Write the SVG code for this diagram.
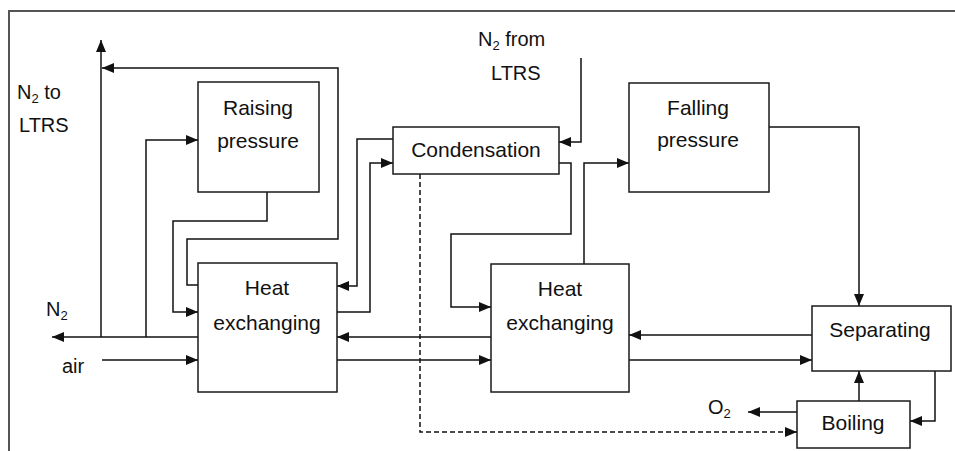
<svg xmlns="http://www.w3.org/2000/svg" width="955" height="451" viewBox="0 0 955 451">
<style>
.box{fill:#fff;stroke:#1a1a1a;stroke-width:1.5}
.t{font-family:"Liberation Sans",Arial,sans-serif;font-size:21px;fill:#111;text-anchor:middle}
.l{font-family:"Liberation Sans",Arial,sans-serif;font-size:20px;fill:#111}
.c{fill:none;stroke:#111;stroke-width:1.5;marker-end:url(#ah)}
.d{stroke-dasharray:5,3}
.frame{fill:none;stroke:#555;stroke-width:2}
</style>
<defs>
<marker id="ah" markerUnits="userSpaceOnUse" markerWidth="12" markerHeight="10" refX="12" refY="5" orient="auto">
<path d="M0,0 L12,5 L0,10 Z" fill="#111"/>
</marker>
</defs>
<rect width="955" height="451" fill="#fff"/>
<path class="frame" d="M9,451 V11 H955"/>

<g id="connectors">
<path class="c" d="M101,337 V40"/>
<path class="c" d="M198,285 H187 V239 H338 V68 H102"/>
<path class="c" d="M267,192 V221 H173 V312 H198"/>
<path class="c" d="M146,337 V140 H198"/>
<path class="c" d="M198,337 H52"/>
<path class="c" d="M102,360 H198"/>
<path class="c" d="M393,139 H357 V286 H337"/>
<path class="c" d="M337,312 H370 V163 H393"/>
<path class="c" d="M491,337 H337"/>
<path class="c" d="M337,360 H491"/>
<path class="c" d="M559,163 H571 V234 H451 V307 H491"/>
<path class="c" d="M581,58 V142 H559"/>
<path class="c" d="M584,264 V163 H629"/>
<path class="c" d="M769,127 H859 V306"/>
<path class="c" d="M812,335 H629"/>
<path class="c" d="M629,360 H812"/>
<path class="c" d="M859,401 V371"/>
<path class="c" d="M935,371 V421 H910"/>
<path class="c" d="M797,412 H748"/>
<path class="c d" d="M420,174 V432 H797"/>
</g>

<g id="raising">
<rect class="box" x="198" y="82" width="121" height="110"/>
<text class="t" x="258" y="115">Raising</text>
<text class="t" x="258" y="148">pressure</text>
</g>
<g id="hx1">
<rect class="box" x="198" y="263" width="139" height="129"/>
<text class="t" x="267" y="295">Heat</text>
<text class="t" x="267" y="330">exchanging</text>
</g>
<g id="condensation">
<rect class="box" x="393" y="127" width="166" height="47"/>
<text class="t" x="476" y="157">Condensation</text>
</g>
<g id="hx2">
<rect class="box" x="491" y="264" width="138" height="128"/>
<text class="t" x="560" y="296">Heat</text>
<text class="t" x="560" y="330">exchanging</text>
</g>
<g id="falling">
<rect class="box" x="629" y="83" width="140" height="109"/>
<text class="t" x="698" y="115">Falling</text>
<text class="t" x="698" y="147">pressure</text>
</g>
<g id="separating">
<rect class="box" x="812" y="306" width="139" height="65"/>
<text class="t" x="880" y="337">Separating</text>
</g>
<g id="boiling">
<rect class="box" x="797" y="401" width="113" height="47"/>
<text class="t" x="853" y="430">Boiling</text>
</g>

<g id="labels">
<text class="l" x="17" y="99">N<tspan font-size="13" dy="4">2</tspan><tspan dy="-4"> to</tspan></text>
<text class="l" x="19" y="132">LTRS</text>
<text class="l" x="478" y="46">N<tspan font-size="13" dy="4">2</tspan><tspan dy="-4"> from</tspan></text>
<text class="l" x="491" y="80">LTRS</text>
<text class="l" x="46" y="316">N<tspan font-size="13" dy="4">2</tspan></text>
<text class="l" x="62" y="373">air</text>
<text class="l" x="708" y="414">O<tspan font-size="13" dy="4">2</tspan></text>
</g>
</svg>
